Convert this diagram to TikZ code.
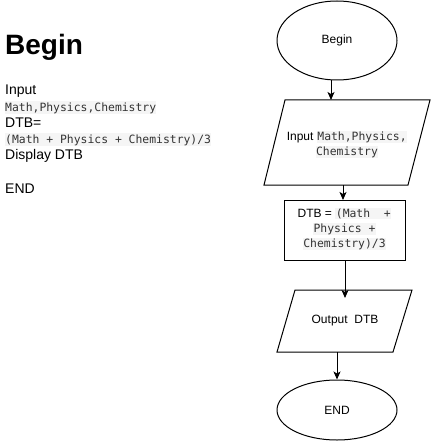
\documentclass[tikz,border=0pt]{standalone}
\usepackage{fontspec}
\setmainfont{Liberation Sans}
\setmonofont{DejaVu Sans Mono}
\usetikzlibrary{shapes.geometric,arrows.meta}
\definecolor{codebg}{HTML}{F5F5F5}
\definecolor{codefg}{HTML}{333333}
\newcommand{\cd}[1]{{\setlength{\fboxsep}{0.6pt}\colorbox{codebg}{\fontsize{11.4}{15}\ttfamily\color{codefg}#1}}}
\tikzset{
  lefttext/.style={anchor=base west, inner sep=0pt, font=\fontsize{14}{16}\selectfont},
  leftcode/.style={anchor=base west, inner xsep=0pt, inner ysep=1pt, fill=codebg, font=\fontsize{11.4}{14}\ttfamily\color{codefg}},
  flowtext/.style={align=center, inner sep=0pt, font=\fontsize{12}{15}\selectfont},
  shapeline/.style={draw=black, line width=1pt},
  arr/.style={line width=1pt, -{Stealth[length=8pt, width=7pt, inset=2pt]}},
}
\begin{document}
\begin{tikzpicture}[x=1pt, y=-1pt]
\useasboundingbox (0,0) rectangle (431,441);
% left column text
\node[anchor=base west, inner sep=0pt, font=\fontsize{28}{32}\bfseries\selectfont] (ltitle) at (5,55) {Begin};
\node[lefttext] (linput) at (5,95) {Input};
\node[leftcode] (lcode1) at (5,111) {Math,Physics,Chemistry};
\node[lefttext] (ldtb) at (5,127) {DTB=};
\node[leftcode] (lcode2) at (5,143) {(Math + Physics + Chemistry)/3};
\node[lefttext] (ldisp) at (5,159) {Display DTB};
\node[lefttext] (lend) at (5,193) {END};

% flowchart
\node[ellipse, shapeline, minimum width=120pt, minimum height=79pt, font=\fontsize{12}{15}\selectfont] (begin) at (337,40.5) {Begin};

% input parallelogram
\coordinate (p1a) at (285,100);
\coordinate (p1b) at (430,100);
\coordinate (p1c) at (408,185);
\coordinate (p1d) at (264,185);
\draw[shapeline, line join=miter] (p1a) -- (p1b) -- (p1c) -- (p1d) -- cycle;
\node[flowtext] (intext) at (347,144.5) {Input \cd{Math,Physics,}\\\cd{Chemistry}};
\coordinate (inTop) at (331,100);
\coordinate (inBot) at (343,185);

% process rectangle
\node[rectangle, shapeline, minimum width=121pt, minimum height=60pt] (proc) at (344.5,230) {};
\node[flowtext] (proctext) at (344.5,229) {DTB = \cd{(Math\ \ +}\\\cd{Physics +}\\\cd{Chemistry)/3}};
\coordinate (procTop) at (343,200);
\coordinate (procBot) at (345,260);

% output parallelogram
\coordinate (p2a) at (295,290);
\coordinate (p2b) at (412,290);
\coordinate (p2c) at (393,352);
\coordinate (p2d) at (277,352);
\draw[shapeline, line join=miter] (p2a) -- (p2b) -- (p2c) -- (p2d) -- cycle;
\node[flowtext] (outtext) at (345,321) {Output\ \ DTB};
\coordinate (outIn) at (345,298);
\coordinate (outBot) at (337,352);

% end ellipse
\node[ellipse, shapeline, minimum width=120pt, minimum height=60pt, font=\fontsize{12}{15}\selectfont] (endnode) at (337,410) {END};

% connectors
\draw[arr] ([xshift=-6pt]begin.south) -- (inTop);
\draw[arr] (inBot) -- (procTop);
\draw[arr] (procBot) -- (outIn);
\draw[arr] (outBot) -- (endnode.north);
\end{tikzpicture}
\end{document}
